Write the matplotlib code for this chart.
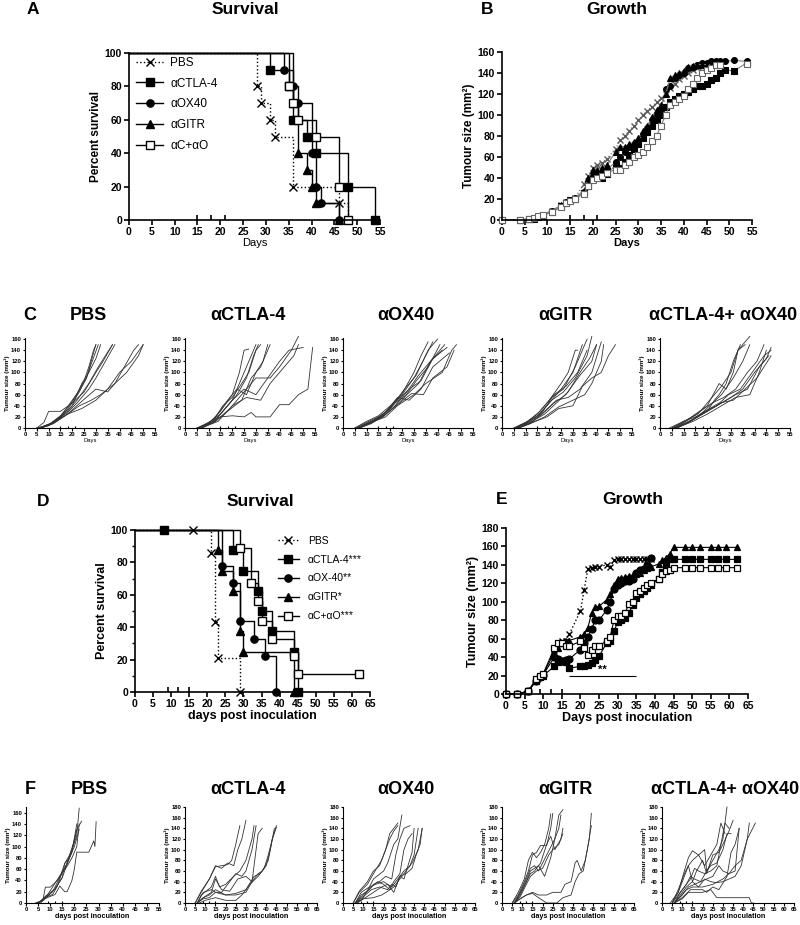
import matplotlib
matplotlib.use("Agg")
import matplotlib.pyplot as plt
import numpy as np
from matplotlib.lines import Line2D

plt.rcParams["font.family"] = ["Liberation Sans", "DejaVu Sans"]
plt.rcParams["font.weight"] = "bold"
plt.rcParams["axes.labelweight"] = "bold"

nan = np.nan

# ---------------- data: panel A (survival, days / percent) ----------------
A_labels = ["PBS", "αCTLA-4", "αOX40", "αGITR", "αC+αO"]
A_pbs_t, A_pbs_s = [28, 29, 31, 32, 36, 46, 48], [80, 70, 60, 50, 20, 10, 0]
A_ctla_t, A_ctla_s = [31, 35, 36, 39, 41, 48, 54], [90, 80, 60, 50, 40, 20, 0]
A_ox_t, A_ox_s = [34, 36, 37, 40, 41, 42, 46], [90, 80, 70, 40, 20, 10, 0]
A_gitr_t, A_gitr_s = [36, 37, 39, 40, 41, 46], [70, 40, 30, 20, 10, 0]
A_combo_t, A_combo_s = [35, 36, 37, 41, 46, 48], [80, 70, 60, 50, 20, 0]

# ---------------- data: panel B (mean growth) ----------------
B_days = [0, 4, 6, 7, 8, 9, 11, 13, 14, 15, 16, 18, 19, 20, 21, 22, 23,
          25, 26, 27, 28, 29, 30, 31, 32, 33, 34, 35, 36, 37, 38, 39, 40, 41, 42,
          43, 44, 45, 46, 47, 48, 49, 51, 54]
B_pbs = [0, 0, 1, 2, 4, 5, 9, 14, 17, 19, 21, 34, 42, 50, 52, 54, 58,
         68, 76, 80, 85, 90, 95, 100, 104, 108, 112, 116, 120, 126, 130, 134, 137, 140,
         143, 145, 146, 147, 148, nan, nan, nan, nan, nan]
B_ctla = [0, 0, 1, 1, 3, 4, 8, 13, 16, 19, 20, 26, 32, 42, 43, 40, 44,
          52, 50, 55, 62, 68, 72, 78, 84, 90, 95, 100, 108, 112, 115, 118, 120, 122,
          125, 128, 128, 130, 133, 135, 140, 143, 142, 150]
B_ox = [0, 0, 1, 2, 3, 5, 9, 13, 17, 19, 21, 27, 35, 40, 42, 45, 48,
        55, 60, 65, 70, 72, 75, 82, 88, 95, 100, 105, 125, 128, 135, 138, 140, 145,
        146, 148, 150, 150, 151, 151, 151, 151, 152, 151]
B_gitr = [0, 0, 1, 2, 4, 5, 9, 14, 17, 19, 21, 28, 40, 48, 48, 50, 52,
          65, 70, 70, 72, 74, 78, 85, 90, 98, 105, 110, 120, 135, 138, 140, 142, 146,
          147, 148, 148, 148, 148, nan, nan, nan, nan, nan]
B_combo = [0, 0, 1, 2, 4, 5, 8, 12, 16, 18, 20, 25, 32, 38, 40, 42, 45,
           48, 48, 52, 55, 60, 62, 65, 70, 75, 80, 90, 100, 110, 112, 115, 118, 125,
           130, 135, 140, 143, 145, 148, 148, nan, nan, 149]

# ---------------- data: row C (individual mice, experiment 1) ----------------
C_titles = ["PBS", "αCTLA-4", "αOX40", "αGITR", "αCTLA-4+ αOX40"]
C_pbs = [
    [(5, 0), (10, 5), (15, 18), (20, 45), (23, 65), (26, 90), (28, 120), (30, 150)],
    [(5, 0), (10, 4), (15, 20), (20, 50), (22, 62), (25, 85), (27, 110), (29, 140), (30, 150)],
    [(6, 0), (10, 6), (15, 22), (20, 48), (24, 75), (26, 90), (28, 115), (31, 150)],
    [(6, 0), (11, 8), (16, 25), (20, 40), (24, 80), (27, 100), (30, 125), (32, 150)],
    [(5, 0), (8, 10), (10, 30), (15, 30), (20, 45), (25, 65), (30, 100), (33, 120), (37, 150)],
    [(6, 0), (12, 10), (18, 30), (22, 50), (27, 80), (31, 110), (34, 130), (37, 150)],
    [(6, 0), (12, 10), (18, 28), (22, 45), (27, 70), (30, 90), (34, 120), (38, 150)],
    [(7, 0), (12, 8), (18, 25), (23, 40), (28, 50), (32, 60), (38, 80), (43, 100), (48, 130), (50, 150)],
    [(7, 0), (12, 8), (18, 25), (24, 48), (30, 70), (35, 65), (38, 80), (42, 110), (46, 140), (48, 150)],
    [(6, 0), (12, 10), (18, 25), (24, 35), (30, 50), (35, 70), (40, 100), (45, 120), (50, 150)],
]
C_ctla = [
    [(5, 0), (10, 8), (15, 30), (20, 60), (23, 100), (25, 140), (27, 142)],
    [(5, 0), (10, 10), (15, 25), (20, 50), (24, 90), (27, 120), (30, 150)],
    [(6, 0), (12, 12), (16, 40), (20, 55), (24, 80), (27, 100), (30, 140), (32, 150)],
    [(6, 0), (12, 10), (18, 40), (22, 60), (26, 90), (29, 130), (31, 150)],
    [(6, 0), (12, 15), (18, 50), (22, 70), (26, 60), (30, 100), (33, 120), (35, 150)],
    [(6, 0), (12, 10), (18, 30), (24, 50), (28, 90), (32, 110), (36, 150)],
    [(7, 0), (13, 12), (19, 35), (24, 60), (30, 90), (36, 90), (40, 110), (45, 140), (48, 165)],
    [(7, 0), (13, 15), (20, 50), (25, 70), (30, 60), (35, 90), (40, 120), (44, 140), (50, 145)],
    [(7, 0), (14, 12), (20, 40), (26, 55), (32, 50), (36, 80), (42, 110), (46, 130), (48, 150)],
    [(7, 0), (12, 15), (15, 20), (20, 22), (25, 20), (28, 28), (30, 20), (36, 20), (40, 42),
     (44, 42), (48, 60), (52, 70), (54, 145)],
]
C_ox = [
    [(5, 0), (10, 10), (15, 20), (20, 35), (25, 62), (30, 100), (33, 130), (36, 155)],
    [(5, 0), (10, 12), (15, 22), (20, 40), (25, 60), (30, 90), (35, 130), (38, 155)],
    [(6, 0), (11, 10), (16, 20), (21, 42), (26, 70), (31, 95), (36, 140), (40, 160)],
    [(6, 0), (11, 10), (16, 18), (21, 35), (26, 55), (31, 85), (36, 110), (41, 150)],
    [(6, 0), (12, 12), (17, 25), (22, 45), (27, 60), (32, 80), (37, 120), (42, 140)],
    [(6, 0), (12, 10), (17, 20), (22, 40), (27, 65), (32, 95), (37, 120), (43, 150)],
    [(7, 0), (12, 8), (18, 25), (23, 50), (28, 70), (33, 85), (38, 125), (44, 145)],
    [(7, 0), (12, 9), (18, 28), (23, 55), (28, 50), (33, 70), (38, 110), (45, 135)],
    [(6, 0), (12, 10), (18, 20), (23, 40), (30, 60), (35, 80), (42, 100), (46, 140), (48, 150)],
    [(6, 0), (12, 10), (18, 25), (24, 45), (29, 62), (34, 60), (38, 90), (44, 110), (47, 140)],
]
C_gitr = [
    [(5, 0), (10, 10), (15, 25), (20, 50), (25, 80), (28, 100), (31, 140), (32, 140)],
    [(5, 0), (10, 10), (15, 22), (20, 45), (25, 70), (30, 100), (34, 150)],
    [(6, 0), (11, 12), (16, 30), (21, 55), (26, 70), (31, 110), (35, 150), (36, 160)],
    [(6, 0), (11, 10), (16, 25), (21, 50), (26, 65), (31, 90), (36, 130), (38, 165)],
    [(6, 0), (12, 12), (17, 28), (22, 60), (27, 75), (32, 100), (36, 140)],
    [(6, 0), (12, 10), (17, 25), (22, 45), (27, 60), (33, 95), (38, 120), (40, 150)],
    [(7, 0), (12, 8), (18, 30), (23, 50), (28, 55), (33, 70), (38, 100), (42, 155)],
    [(7, 0), (13, 10), (18, 20), (24, 38), (30, 50), (35, 60), (38, 80), (42, 120), (43, 150)],
    [(7, 0), (13, 10), (19, 20), (24, 35), (30, 40), (34, 75), (38, 90), (42, 100), (45, 130), (48, 150)],
    [(6, 0), (12, 10), (18, 25), (23, 45), (28, 65), (33, 100), (37, 125), (40, 150)],
]
C_combo = [
    [(4, 0), (10, 12), (15, 20), (20, 30), (23, 50), (25, 60), (28, 80), (31, 120), (34, 150)],
    [(5, 0), (10, 10), (15, 25), (20, 40), (25, 80), (28, 70), (31, 100), (33, 140), (36, 150)],
    [(5, 0), (10, 12), (16, 25), (22, 55), (26, 75), (30, 100), (33, 140), (38, 165)],
    [(6, 0), (11, 10), (16, 20), (21, 40), (26, 60), (31, 90), (35, 120), (38, 150)],
    [(6, 0), (12, 15), (17, 30), (22, 45), (27, 55), (32, 70), (37, 100), (41, 120), (44, 150)],
    [(6, 0), (12, 10), (18, 28), (24, 40), (29, 60), (34, 70), (39, 100), (44, 130), (47, 140)],
    [(7, 0), (12, 10), (18, 25), (24, 40), (30, 55), (35, 70), (40, 100), (45, 125), (47, 145)],
    [(7, 0), (14, 15), (20, 30), (26, 45), (32, 60), (37, 70), (42, 110), (46, 130)],
    [(7, 0), (14, 12), (20, 25), (26, 40), (32, 55), (38, 60), (42, 100), (45, 140)],
    [(7, 0), (13, 12), (19, 30), (25, 45), (31, 50), (36, 70), (41, 90), (44, 110), (47, 130)],
]

# ---------------- data: panel D (survival, experiment 2) ----------------
D_labels = ["PBS", "αCTLA-4***", "αOX-40**", "αGITR*", "αC+αO***"]
D_pbs_t, D_pbs_s, D_pbs_c = [21, 22, 23, 29], [86, 43, 21, 0], [16]
D_ctla_t, D_ctla_s, D_ctla_c = [27, 30, 34, 35, 38, 44, 45], [87.5, 75, 62.5, 50, 37.5, 25, 0], [8]
D_ox_t, D_ox_s, D_ox_c = [24, 27, 29, 33, 36, 39], [78, 67, 44, 33, 22, 0], []
D_gitr_t, D_gitr_s, D_gitr_c = [23, 24, 27, 29, 30, 44], [87.5, 75, 62.5, 37.5, 25, 0], []
D_combo_t, D_combo_s, D_combo_c = [29, 32, 34, 35, 38, 44, 45], [89, 67, 56, 44, 33, 22, 11], [62]

# ---------------- data: panel E (mean growth, experiment 2) ----------------
E_days = [0, 3, 6, 8, 9, 10, 13, 14, 15, 16, 17, 20, 21, 22, 23, 24, 25,
          27, 28, 29, 30, 31, 32, 33, 34, 35, 36, 37, 38, 39,
          41, 42, 43, 44, 45, 48, 50, 52, 55, 57, 59, 62]
E_pbs = [0, 0, 3, 15, 18, 20, 48, 55, 57, 58, 65, 90, 113, 136, 137, 138, 138,
         140, 138, 145, 146, 146, 146, 146, 146, 146, 146, 146, 146, 146,
         nan, nan, nan, nan, nan, nan, nan, nan, nan, nan, nan, nan]
E_ctla = [0, 0, 3, 14, 18, 20, 30, 35, 36, 35, 28, 30, 30, 31, 34, 37, 41,
          55, 58, 68, 78, 80, 82, 88, 96, 104, 108, 112, 115, 118,
          125, 132, 140, 146, 146, 146, 146, 146, 146, 146, 146, 146]
E_ox = [0, 0, 3, 14, 18, 21, 40, 38, 36, 37, 38, 48, 55, 62, 71, 80, 80,
        91, 100, 114, 118, 120, 122, 123, 125, 131, 134, 136, 140, 147,
        nan, nan, nan, nan, nan, nan, nan, nan, nan, nan, nan, nan]
E_gitr = [0, 0, 3, 15, 19, 22, 45, 50, 55, 58, 58, 62, 65, 72, 88, 94, 95,
          102, 108, 118, 125, 126, 127, 128, 129, 130, 131, 135, 137, 138,
          141, 145, 148, 152, 159, 159, 159, 159, 159, 159, 159, 159]
E_combo = [0, 0, 3, 16, 19, 22, 50, 55, 55, 52, 52, 57, 50, 42, 48, 52, 52,
           58, 62, 80, 85, 85, 88, 98, 100, 110, 112, 115, 118, 120,
           125, 130, 133, 135, 137, 137, 137, 137, 137, 137, 137, 137]
E_sig_days, E_sig_level = [17, 35], 20

# ---------------- data: row F (individual mice, experiment 2) ----------------
F_pbs = [
    [(4, 0), (6, 3), (8, 12), (12, 25), (15, 45), (18, 80), (21, 120), (22, 168)],
    [(4, 0), (7, 5), (8, 28), (10, 28), (13, 40), (16, 60), (19, 95), (21, 130), (23, 145)],
    [(5, 0), (7, 5), (9, 15), (12, 35), (15, 55), (17, 70), (19, 90), (21, 140)],
    [(5, 0), (8, 10), (11, 20), (14, 45), (16, 70), (18, 85), (20, 110), (21, 130)],
    [(5, 0), (8, 8), (12, 15), (14, 30), (16, 20), (17, 20), (19, 40), (20, 60), (21, 90),
     (26, 90), (28, 110), (28.5, 100), (29, 144)],
    [(5, 0), (8, 10), (11, 15), (13, 30), (15, 55), (17, 65), (19, 80), (21, 100), (22, 140)],
    [(6, 0), (9, 12), (12, 25), (15, 45), (16, 70), (18, 80), (20, 100), (22, 130)],
]
F_ctla = [
    [(5, 0), (8, 20), (12, 45), (15, 68), (18, 70), (21, 72), (23, 80), (25, 110), (27, 145)],
    [(5, 0), (8, 22), (12, 45), (15, 70), (18, 65), (21, 75), (24, 70), (26, 100), (28, 120), (30, 155)],
    [(6, 0), (8, 15), (13, 30), (15, 50), (17, 30), (20, 35), (24, 50), (27, 60), (30, 80), (33, 120), (34, 145)],
    [(6, 0), (9, 20), (13, 25), (15, 20), (18, 20), (22, 40), (25, 55), (28, 50), (30, 60), (33, 100), (35, 145)],
    [(6, 0), (9, 10), (13, 20), (15, 45), (18, 25), (22, 22), (26, 45), (30, 50), (33, 40), (36, 130), (38, 140)],
    [(6, 0), (9, 10), (12, 15), (15, 25), (20, 15), (25, 15), (30, 20), (33, 40), (36, 55), (38, 60),
     (41, 80), (43, 120), (45, 145)],
    [(6, 0), (9, 8), (12, 10), (15, 20), (20, 15), (25, 18), (30, 25), (34, 50), (37, 55), (40, 70),
     (42, 100), (44, 140)],
    [(7, 0), (10, 5), (15, 10), (20, 5), (25, 5), (28, 15), (32, 35), (36, 50), (39, 65), (41, 90),
     (43, 120), (45, 142)],
]
F_ox = [
    [(5, 0), (8, 20), (12, 35), (15, 55), (19, 80), (21, 100), (23, 130), (25, 140), (27, 150)],
    [(5, 0), (8, 22), (12, 40), (15, 60), (18, 70), (21, 100), (23, 120), (25, 135), (27, 145)],
    [(6, 0), (9, 20), (13, 30), (15, 45), (20, 60), (22, 75), (25, 110), (27, 120), (29, 165)],
    [(6, 0), (9, 15), (13, 25), (15, 35), (18, 40), (21, 50), (24, 45), (26, 90), (28, 120), (30, 140), (33, 145)],
    [(6, 0), (10, 15), (14, 30), (17, 40), (20, 35), (23, 25), (25, 40), (28, 55), (30, 100), (32, 120), (34, 130)],
    [(6, 0), (10, 12), (14, 25), (18, 30), (22, 25), (24, 35), (26, 30), (28, 50), (30, 45), (34, 95), (35, 140)],
    [(7, 0), (10, 10), (13, 30), (16, 35), (20, 40), (24, 30), (27, 45), (30, 60), (33, 70), (35, 90), (37, 140)],
    [(7, 0), (11, 10), (15, 20), (19, 30), (22, 35), (25, 20), (28, 50), (31, 55), (34, 65), (36, 90),
     (38, 110), (39, 140)],
    [(6, 0), (10, 8), (15, 10), (19, 15), (22, 22), (25, 30), (28, 45), (31, 60), (34, 75), (37, 100), (39, 140)],
]
F_gitr = [
    [(5, 0), (8, 15), (11, 40), (13, 60), (15, 90), (17, 95), (19, 108), (22, 108), (24, 140), (25, 168)],
    [(5, 0), (8, 20), (11, 45), (13, 80), (15, 95), (17, 85), (19, 95), (21, 110), (23, 140), (24, 167)],
    [(6, 0), (9, 20), (12, 45), (14, 65), (16, 70), (18, 60), (20, 75), (22, 90), (24, 105), (26, 120),
     (28, 165), (30, 175)],
    [(6, 0), (9, 15), (12, 40), (14, 60), (16, 65), (18, 70), (21, 50), (24, 85), (26, 120), (28, 140), (29, 165)],
    [(6, 0), (9, 18), (12, 40), (14, 55), (16, 60), (19, 75), (22, 110), (24, 125), (26, 100), (29, 120), (30, 140)],
    [(6, 0), (9, 12), (12, 35), (14, 50), (17, 60), (20, 65), (23, 90), (25, 100), (28, 110), (30, 130)],
    [(6, 0), (9, 8), (12, 15), (15, 20), (18, 15), (22, 15), (25, 20), (29, 20), (31, 35), (34, 40),
     (36, 75), (37, 80), (39, 60), (41, 80), (43, 120), (44, 168)],
    [(6, 0), (9, 8), (12, 15), (15, 18), (18, 10), (22, 0), (27, 0), (30, 10), (34, 15), (36, 40),
     (38, 55), (40, 60), (42, 100), (44, 145)],
]
F_combo = [
    [(4, 0), (8, 20), (11, 60), (13, 85), (15, 98), (18, 90), (21, 70), (24, 90), (27, 110), (29, 150), (31, 130)],
    [(5, 0), (8, 25), (11, 55), (13, 70), (15, 80), (18, 90), (21, 100), (22, 60), (25, 80), (28, 100),
     (30, 120), (32, 180)],
    [(5, 0), (8, 20), (10, 40), (13, 70), (15, 40), (17, 60), (20, 80), (22, 55), (25, 90), (28, 95),
     (30, 110), (33, 135), (35, 155)],
    [(5, 0), (8, 15), (11, 30), (14, 45), (16, 65), (18, 60), (21, 55), (24, 60), (27, 70), (29, 110),
     (31, 150), (33, 140)],
    [(6, 0), (9, 20), (12, 35), (14, 50), (16, 45), (19, 40), (22, 45), (25, 50), (28, 70), (30, 60),
     (33, 55), (36, 60), (38, 140)],
    [(6, 0), (9, 15), (12, 30), (15, 40), (18, 30), (21, 45), (24, 40), (27, 38), (30, 40), (33, 45),
     (36, 50), (39, 70), (42, 120), (43, 150)],
    [(6, 0), (9, 12), (12, 25), (15, 30), (20, 30), (25, 35), (30, 45), (33, 55), (36, 70), (39, 80),
     (42, 120), (44, 135), (46, 150)],
    [(6, 0), (10, 10), (14, 25), (20, 25), (22, 20), (25, 30), (28, 25), (32, 50), (34, 95), (36, 110), (38, 140)],
    [(6, 0), (10, 8), (13, 20), (20, 20), (24, 25), (27, 10), (35, 10), (43, 10), (44, 0), (45, 0)],
    [(6, 0), (10, 15), (13, 30), (16, 35), (19, 40), (22, 60), (24, 70), (27, 75), (30, 100), (32, 130), (34, 130)],
]

treat_1 = [15, 18, 21]
treat_2 = [9, 12, 15]

# ---------------- drawing ----------------
W, H = 800, 925
fig = plt.figure(figsize=(W / 100, H / 100), dpi=100)


def add_ax(l, t, r, b):
    return fig.add_axes([l / W, 1 - b / H, (r - l) / W, (b - t) / H])


def style(ax, lw=1.2, fs=7.5, tl=3.5):
    for s in ["top", "right"]:
        ax.spines[s].set_visible(False)
    for s in ["left", "bottom"]:
        ax.spines[s].set_linewidth(lw)
    ax.tick_params(width=lw, length=tl, labelsize=fs, pad=1.5)


def treat_marks(ax, days, h, lw):
    ax.vlines(days, 0, h, color="k", lw=lw, clip_on=False)


def km(ax, times, surv, marker, ls, mfc, censor=(), ms=5.2):
    xs, ys = [0], [100]
    for t, s in zip(times, surv):
        xs += [t, t]
        ys += [ys[-1], s]
    if censor and max(censor) > xs[-1]:
        xs.append(max(censor))
        ys.append(ys[-1])

    def level(c):
        lv = 100
        for t, s in zip(times, surv):
            if t <= c:
                lv = s
        return lv
    ax.plot(xs, ys, ls=ls, color="k", lw=1.0, clip_on=False)
    mx = list(times) + list(censor)
    my = list(surv) + [level(c) for c in censor]
    ax.plot(mx, my, ls="none", marker=marker, mfc=mfc, mec="k", ms=ms, mew=1.0, clip_on=False)
    return Line2D([], [], color="k", ls=ls, lw=1.0, marker=marker, mfc=mfc, mec="k", ms=ms)


def label(x, y, s, fs=12.5):
    fig.text(x / W, 1 - y / H, s, ha="center", va="center", fontsize=fs, fontweight="bold")


# panel A
axA = add_ax(129, 53, 380, 220)
style(axA)
hA = [km(axA, A_pbs_t, A_pbs_s, "x", ":", "k"),
      km(axA, A_ctla_t, A_ctla_s, "s", "-", "k"),
      km(axA, A_ox_t, A_ox_s, "o", "-", "k"),
      km(axA, A_gitr_t, A_gitr_s, "^", "-", "k"),
      km(axA, A_combo_t, A_combo_s, "s", "-", "white")]
axA.set_xlim(0, 55)
axA.set_ylim(0, 100)
axA.set_xticks(range(0, 56, 5))
axA.set_yticks(range(0, 101, 20))
treat_marks(axA, treat_1, 3, 1.2)
axA.set_ylabel("Percent survival", fontsize=8.5, labelpad=2)
axA.set_xlabel("Days", fontsize=8, fontweight="normal", labelpad=1)
axA.legend(hA, A_labels, loc="upper left", bbox_to_anchor=(0.0, 1.02), frameon=False,
           prop={"weight": "normal", "size": 8.5}, handlelength=2.3, labelspacing=0.75,
           borderaxespad=0.2, handletextpad=0.6)
label(33, 10, "A")
label(245, 10, "Survival")

# panel B
axB = add_ax(502, 52, 752, 220)
style(axB)
axB.plot(B_days, B_pbs, ls=":", color="0.45", lw=0.9, marker="x", ms=4, mec="0.35", clip_on=False)
for vals, mk, fc in [(B_ctla, "s", "k"), (B_ox, "o", "k"), (B_gitr, "^", "k"), (B_combo, "s", "white")]:
    axB.plot(B_days, vals, ls="-", color="0.5", lw=0.8, marker=mk, ms=4.2, mfc=fc, mec="k" if fc == "k" else "0.4",
             mew=0.8, clip_on=False)
axB.set_xlim(0, 55)
axB.set_ylim(0, 160)
axB.set_xticks(range(0, 56, 5))
axB.set_yticks(range(0, 161, 20))
treat_marks(axB, treat_1, 5, 1.2)
axB.set_ylabel("Tumour size (mm²)", fontsize=8.5, labelpad=2)
axB.set_xlabel("Days", fontsize=8, labelpad=1)
label(487, 10, "B")
label(617, 10, "Growth")


def small_panel(ax, mice, xmax, ymax, ytop, xlabel, xbold, treat):
    style(ax, lw=0.8, fs=4.2, tl=1.8)
    for m in mice:
        d = [p[0] for p in m]
        v = [p[1] for p in m]
        ax.plot(d, v, color="0.2", lw=0.6, clip_on=False)
    ax.set_xlim(0, xmax)
    ax.set_ylim(0, ymax)
    ax.set_xticks(range(0, xmax + 1, 5))
    ax.set_yticks(range(0, ytop + 1, 20))
    ax.tick_params(pad=1)
    treat_marks(ax, treat, ymax * 0.025, 0.8)
    ax.set_ylabel("Tumour size (mm²)", fontsize=4.5, labelpad=1)
    ax.set_xlabel(xlabel, fontsize=5.2 if xbold else 4.2,
                  fontweight="bold" if xbold else "normal", labelpad=1)


# row C
C_lefts = [25, 185, 343, 502, 660]
C_mice = [C_pbs, C_ctla, C_ox, C_gitr, C_combo]
for left, mice, title in zip(C_lefts, C_mice, C_titles):
    ax = add_ax(left, 338, left + 130, 428)
    small_panel(ax, mice, 55, 162, 160, "Days", False, treat_1)
    label(left + 63, 315, title, fs=13)
label(30, 315, "C", fs=13)

# panel D
axD = add_ax(135, 530, 370, 692)
style(axD)
hD = [km(axD, D_pbs_t, D_pbs_s, "x", ":", "k", D_pbs_c),
      km(axD, D_ctla_t, D_ctla_s, "s", "-", "k", D_ctla_c),
      km(axD, D_ox_t, D_ox_s, "o", "-", "k", D_ox_c),
      km(axD, D_gitr_t, D_gitr_s, "^", "-", "k", D_gitr_c),
      km(axD, D_combo_t, D_combo_s, "s", "-", "white", D_combo_c)]
axD.set_xlim(0, 65)
axD.set_ylim(0, 100)
axD.set_xticks(range(0, 66, 5))
axD.set_yticks(range(0, 101, 20))
axD.set_yticks(range(10, 100, 20), minor=True)
axD.tick_params(which="minor", length=2, width=1.0)
treat_marks(axD, treat_2, 3, 1.2)
axD.set_ylabel("Percent survival", fontsize=9, labelpad=2)
axD.set_xlabel("days post inoculation", fontsize=9, labelpad=1)
axD.legend(hD, D_labels, loc="upper left", bbox_to_anchor=(0.59, 0.99), frameon=False,
           prop={"weight": "normal", "size": 7.5}, handlelength=2.0, labelspacing=0.85,
           borderaxespad=0.0, handletextpad=0.9)
label(43, 502, "D")
label(260, 502, "Survival")

# panel E
axE = add_ax(506, 528, 748, 694)
style(axE)
axE.plot(E_days, E_pbs, ls=":", color="k", lw=1.0, marker="x", ms=5, mec="k", clip_on=False)
for vals, mk, fc in [(E_ctla, "s", "k"), (E_ox, "o", "k"), (E_gitr, "^", "k"), (E_combo, "s", "white")]:
    axE.plot(E_days, vals, ls="-", color="k", lw=0.8, marker=mk, ms=5, mfc=fc, mec="k", mew=0.9, clip_on=False)
axE.hlines(E_sig_level, E_sig_days[0], E_sig_days[1], color="k", lw=0.8)
axE.text(np.mean(E_sig_days), E_sig_level + 1, "**", ha="center", va="bottom", fontsize=8)
axE.set_xlim(0, 65)
axE.set_ylim(0, 180)
axE.set_xticks(range(0, 66, 5))
axE.set_yticks(range(0, 181, 20))
treat_marks(axE, treat_2, 5, 1.2)
axE.set_ylabel("Tumour size (mm²)", fontsize=9, labelpad=2)
axE.set_xlabel("Days post inoculation", fontsize=9, labelpad=1)
label(502, 500, "E")
label(633, 500, "Growth")

# row F
F_lefts = [26, 185, 343, 502, 662]
F_mice = [F_pbs, F_ctla, F_ox, F_gitr, F_combo]
for i, (left, mice, title) in enumerate(zip(F_lefts, F_mice, C_titles)):
    if i == 0:
        ax = add_ax(left, 807, left + 133, 903)
        small_panel(ax, mice, 55, 170, 160, "days post inoculation", True, treat_2)
    else:
        ax = add_ax(left, 807, left + 132, 903)
        small_panel(ax, mice, 65, 180, 180, "days post inoculation", True, treat_2)
    label(left + 63, 789, title, fs=13)
label(30, 789, "F", fs=13)

fig.savefig("out.png", dpi=100)
